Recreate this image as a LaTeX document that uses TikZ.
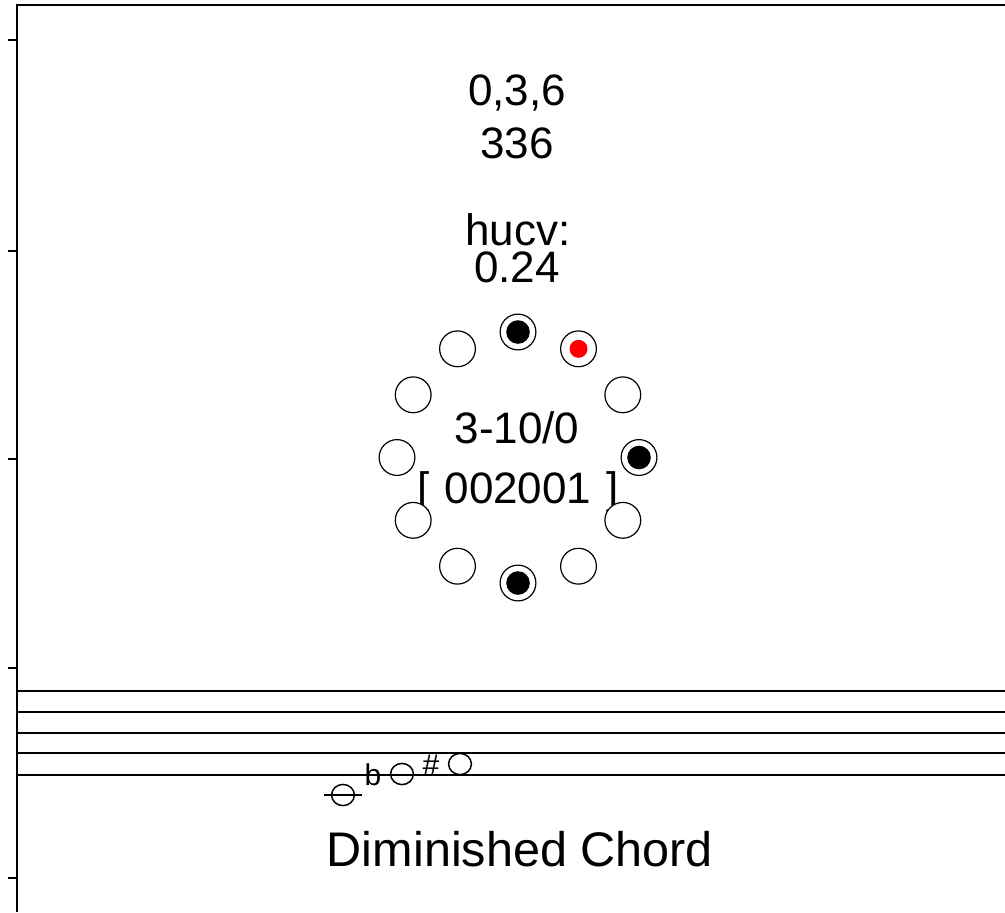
\documentclass[tikz,border=0pt]{standalone}
\usepackage{fontspec}
\setmainfont{Liberation Sans}
\usepackage{tikz}
\usetikzlibrary{shapes, positioning}

\begin{document}
\begin{tikzpicture}
  [
    x=0.5pt, y=-0.5pt,
    Round/.style={circle, draw=black, fill=white, line width=0.6pt, minimum size=17.9pt, inner sep=0pt},
    Black/.style={Round, path picture={\fill[black] (path picture bounding box.center) circle (5.9pt);}},
    Red/.style={Round, path picture={\fill[red] (path picture bounding box.center) circle (4.5pt);}},
    Label/.style={font=\fontsize{22}{26}\selectfont, anchor=base, inner sep=0pt},
    Title/.style={font=\fontsize{24.3}{28}\selectfont, anchor=base, inner sep=0pt},
    Note/.style={ellipse, draw=black, line width=0.75pt, minimum width=11.4pt, minimum height=10.6pt, inner sep=0pt},
    Sign/.style={font=\fontsize{15}{18}\selectfont, anchor=base, inner sep=0pt},
    Rule/.style={line width=0.6pt}
  ]
  \useasboundingbox (0,0) rectangle (1005,912);

  % Frame
  \draw[Rule] (1005,5) -- (17,5) -- (17,912);
  \draw[Rule] (8,40) -- (17,40);
  \draw[Rule] (8,251) -- (17,251);
  \draw[Rule] (8,459) -- (17,459);
  \draw[Rule] (8,668) -- (17,668);
  \draw[Rule] (8,878) -- (17,878);

  % Labels
  \node[Label] (set) at (517,105) {0,3,6};
  \node[Label] (code) at (517,158) {336};
  \node[Label] (hucv) at (518,245) {hucv:};
  \node[Label] (value) at (517,282) {0.24};
  \node[Label] (forte) at (517,443) {3-10/0};
  \node[Label] (vector) at (518,503) {[\,\,002001\,\,]};

  % Nodes
  \node[Black] (p0) at (518,332) {};
  \node[Red] (p1) at (578.5,348.8) {};
  \node[Round] (p2) at (622.8,394.8) {};
  \node[Black] (p3) at (639,457.5) {};
  \node[Round] (p4) at (622.8,520.3) {};
  \node[Round] (p5) at (578.5,566.2) {};
  \node[Black] (p6) at (518,583) {};
  \node[Round] (p7) at (457.5,566.2) {};
  \node[Round] (p8) at (413.2,520.3) {};
  \node[Round] (p9) at (397,457.5) {};
  \node[Round] (p10) at (413.2,394.8) {};
  \node[Round] (p11) at (457.5,348.8) {};

  % Staff
  \draw[Rule] (17,691) -- (1005,691);
  \draw[Rule] (17,712) -- (1005,712);
  \draw[Rule] (17,733) -- (1005,733);
  \draw[Rule] (17,753) -- (1005,753);
  \draw[Rule] (17,775) -- (1005,775);

  % Notes
  \node[Note] (c) at (343,795) {};
  \draw[Rule] ([xshift=-3.5pt]c.west) -- ([xshift=3.5pt]c.east);
  \node[Sign] (flat) at (373,785) {b};
  \node[Note] (es) at (402,774) {};
  \node[Sign] (sharp) at (431,775) {\#};
  \node[Note] (fis) at (460,764) {};

  \node[Title] (name) at (520,866) {Diminished Chord};
\end{tikzpicture}
\end{document}
